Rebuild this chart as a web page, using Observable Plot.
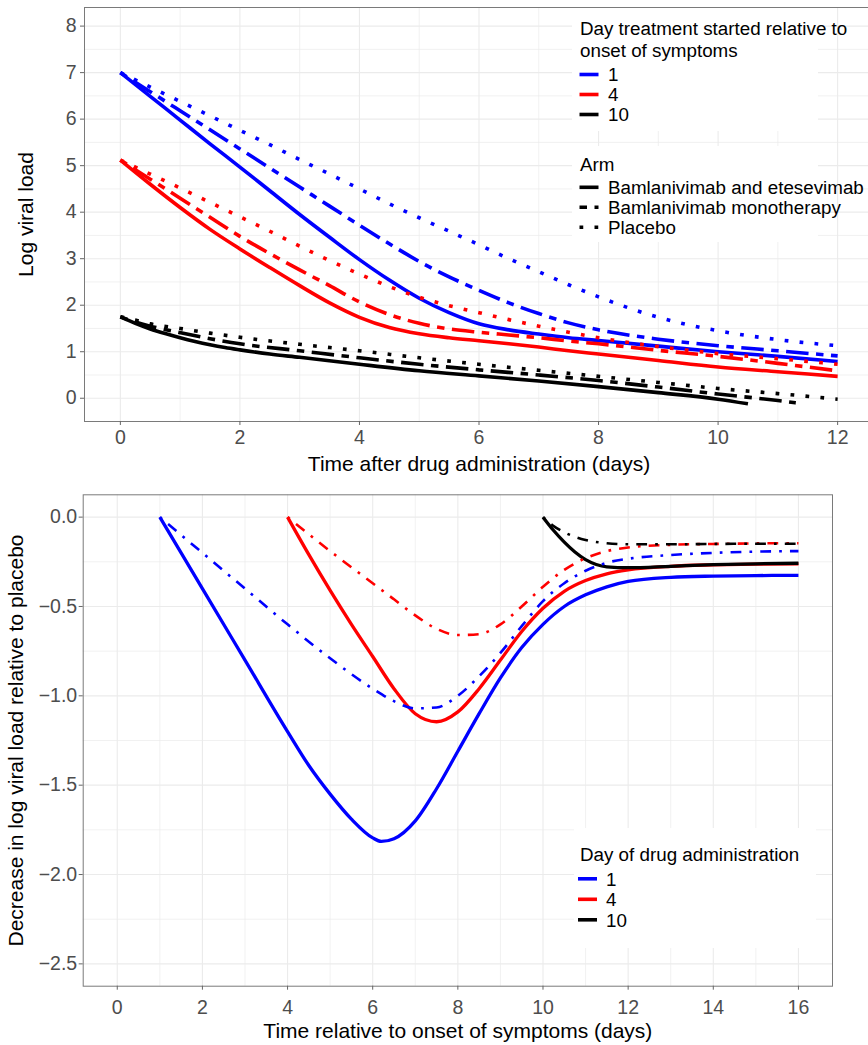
<!DOCTYPE html>
<html><head><meta charset="utf-8">
<script src="https://cdn.jsdelivr.net/npm/d3@7"></script>
<script src="https://cdn.jsdelivr.net/npm/@observablehq/plot@0.6"></script>
<style>
html,body{margin:0;padding:0;background:#fff;overflow:hidden;width:868px;height:1045px;position:relative}
#top{position:absolute;left:0;top:0;width:880px}
#bot{position:absolute;left:0;top:478px;width:868px}
svg{overflow:visible;max-width:none !important}
svg text{font-family:"Liberation Sans",Arial,sans-serif}
g[aria-label="x-axis label"] text, g[aria-label="y-axis label"] text{font-size:21px;fill:#000}
g[aria-label="x-axis tick label"] text, g[aria-label="y-axis tick label"] text{fill:#4d4d4d}
</style></head><body><div id="top"></div><div id="bot"></div>
<script>
// ---------- shared categories ----------
const dayLevels = ["1", "4", "10"];
const dayColors = ["#0000ff", "#ff0000", "#000000"];
const armLevels = ["Bamlanivimab and etesevimab", "Bamlanivimab monotherapy", "Placebo"];

// ---------- top panel: log viral load vs time after drug administration ----------
const topXTicks = [0, 2, 4, 6, 8, 10, 12];
const topXMinor = [1, 3, 5, 7, 9, 11];
const topYTicks = [0, 1, 2, 3, 4, 5, 6, 7, 8];
const topYMinor = [-0.5, 0.5, 1.5, 2.5, 3.5, 4.5, 5.5, 6.5, 7.5];

const tTop = [0, 0.5, 1, 1.5, 2, 2.5, 3, 3.5, 4, 4.5, 5, 5.5, 6, 6.5, 7, 7.5, 8, 9, 10, 11, 12];
const d1Combo   = [7.0, 6.49, 5.98, 5.47, 4.97, 4.46, 3.95, 3.46, 2.98, 2.54, 2.15, 1.84, 1.60, 1.47, 1.38, 1.30, 1.24, 1.12, 1.00, 0.90, 0.79];
const d1Mono    = [7.0, 6.59, 6.18, 5.77, 5.36, 4.95, 4.54, 4.13, 3.72, 3.32, 2.94, 2.61, 2.32, 2.05, 1.82, 1.62, 1.47, 1.27, 1.13, 1.02, 0.91];
const d1Placebo = [7.0, 6.69, 6.38, 6.07, 5.76, 5.45, 5.13, 4.82, 4.50, 4.18, 3.88, 3.59, 3.30, 3.00, 2.72, 2.44, 2.18, 1.74, 1.45, 1.26, 1.13];
const d4Combo   = [5.12, 4.60, 4.10, 3.63, 3.21, 2.81, 2.42, 2.05, 1.74, 1.52, 1.385, 1.30, 1.235, 1.17, 1.10, 1.02, 0.95, 0.81, 0.67, 0.57, 0.47];
const d4Mono    = [5.12, 4.71, 4.30, 3.89, 3.48, 3.11, 2.76, 2.42, 2.07, 1.80, 1.61, 1.49, 1.42, 1.36, 1.30, 1.23, 1.17, 1.03, 0.90, 0.75, 0.59];
const d4Placebo = [5.12, 4.82, 4.52, 4.21, 3.90, 3.59, 3.27, 2.96, 2.67, 2.40, 2.17, 1.99, 1.84, 1.69, 1.55, 1.42, 1.30, 1.11, 0.96, 0.85, 0.73];
const tD10Combo   = [0, 0.25, 0.5, 0.75, 1, 1.25, 1.5, 1.75, 2, 2.5, 3, 4, 5, 6, 7, 8, 9, 10, 10.5];
const d10Combo    = [1.75, 1.61, 1.49, 1.39, 1.30, 1.22, 1.15, 1.09, 1.04, 0.95, 0.88, 0.73, 0.59, 0.48, 0.37, 0.25, 0.12, -0.02, -0.12];
const tD10Mono    = [0, 0.25, 0.5, 1, 1.5, 2, 3, 4, 5, 6, 7, 8, 9, 10, 11, 11.3];
const d10Mono     = [1.75, 1.64, 1.55, 1.41, 1.28, 1.17, 1.02, 0.87, 0.73, 0.61, 0.50, 0.38, 0.24, 0.09, -0.05, -0.10];
const tD10Placebo = [0, 0.25, 0.5, 1, 1.5, 2, 3, 4, 5, 6, 7, 8, 9, 10, 11, 12];
const d10Placebo  = [1.75, 1.68, 1.60, 1.50, 1.40, 1.31, 1.16, 1.02, 0.87, 0.73, 0.60, 0.47, 0.34, 0.21, 0.10, -0.02];

// ---------- bottom panel: decrease relative to placebo ----------
const botXTicks = [0, 2, 4, 6, 8, 10, 12, 14, 16];
const botXMinor = [1, 3, 5, 7, 9, 11, 13, 15];
const botYTicks = [0, -0.5, -1, -1.5, -2, -2.5];
const botYMinor = [-0.25, -0.75, -1.25, -1.75, -2.25];

const tB1Combo = [1, 2, 3, 4, 4.5, 5, 5.5, 6, 6.2, 6.5, 7, 7.5, 8, 8.5, 9, 9.5, 10, 10.5, 11, 11.5, 12, 13, 14, 15, 16];
const b1Combo  = [0, -0.4, -0.8, -1.2, -1.39, -1.55, -1.69, -1.795, -1.815, -1.80, -1.70, -1.52, -1.31, -1.10, -0.90, -0.73, -0.60, -0.50, -0.435, -0.39, -0.36, -0.337, -0.33, -0.327, -0.326];
const tB1Mono  = [1, 2, 3, 4, 5, 6, 6.5, 7, 7.5, 8, 8.5, 9, 9.5, 10, 10.5, 11, 11.5, 12, 13, 14, 15, 16];
const b1Mono   = [0, -0.2, -0.4, -0.6, -0.79, -0.96, -1.03, -1.07, -1.065, -1.0, -0.89, -0.76, -0.61, -0.47, -0.37, -0.30, -0.255, -0.233, -0.212, -0.2, -0.193, -0.19];
const tB4Combo = [4, 4.5, 5, 5.5, 6, 6.5, 7, 7.5, 8, 8.5, 9, 9.5, 10, 10.5, 11, 11.5, 12, 13, 14, 15, 16];
const b4Combo  = [0, -0.21, -0.41, -0.60, -0.78, -0.96, -1.10, -1.145, -1.09, -0.96, -0.80, -0.64, -0.51, -0.415, -0.355, -0.317, -0.295, -0.275, -0.267, -0.263, -0.261];
const tB4Mono  = [4, 5, 6, 6.5, 7, 7.5, 8, 8.5, 9, 9.5, 10, 10.5, 11, 11.5, 12, 13, 14, 15, 16];
const b4Mono   = [0, -0.19, -0.37, -0.46, -0.55, -0.625, -0.66, -0.655, -0.60, -0.50, -0.39, -0.295, -0.23, -0.19, -0.17, -0.155, -0.15, -0.147, -0.146];
const tB10Combo = [10, 10.25, 10.5, 10.75, 11, 11.25, 11.5, 12, 13, 14, 15, 16];
const b10Combo  = [0, -0.075, -0.14, -0.195, -0.238, -0.265, -0.278, -0.283, -0.275, -0.266, -0.261, -0.258];
const tB10Mono  = [10, 10.25, 10.5, 10.75, 11, 11.5, 12, 13, 14, 15, 16];
const b10Mono   = [0, -0.05, -0.085, -0.11, -0.128, -0.146, -0.152, -0.152, -0.15, -0.149, -0.149];

// ---------- build tables ----------
function series(day, arm, xs, ys) { return xs.map((x, i) => ({day, arm, x, y: ys[i]})); }
const topRows = [
  ...series("1", armLevels[0], tTop, d1Combo), ...series("1", armLevels[1], tTop, d1Mono), ...series("1", armLevels[2], tTop, d1Placebo),
  ...series("4", armLevels[0], tTop, d4Combo), ...series("4", armLevels[1], tTop, d4Mono), ...series("4", armLevels[2], tTop, d4Placebo),
  ...series("10", armLevels[0], tD10Combo, d10Combo), ...series("10", armLevels[1], tD10Mono, d10Mono), ...series("10", armLevels[2], tD10Placebo, d10Placebo)
];
const botRows = [
  ...series("1", armLevels[0], tB1Combo, b1Combo), ...series("1", armLevels[1], tB1Mono, b1Mono),
  ...series("4", armLevels[0], tB4Combo, b4Combo), ...series("4", armLevels[1], tB4Mono, b4Mono),
  ...series("10", armLevels[0], tB10Combo, b10Combo), ...series("10", armLevels[1], tB10Mono, b10Mono)
];

const FONT = "Liberation Sans, Arial, sans-serif";
const GRID = "#ebebeb";
const topDash = [null, "7.5,7.5,22.5,7.5", "3.75,11.25"];
const botDash = [null, "2.7,8.1,10.8,8.1"];

function gridMarks(xMaj, xMin, yMaj, yMin) {
  return [
    Plot.ruleX(xMin, {stroke: GRID, strokeWidth: 0.7}),
    Plot.ruleY(yMin, {stroke: GRID, strokeWidth: 0.7}),
    Plot.ruleX(xMaj, {stroke: GRID, strokeWidth: 1.1}),
    Plot.ruleY(yMaj, {stroke: GRID, strokeWidth: 1.1})
  ];
}

// ---------- top plot ----------
const topPlot = Plot.plot({
  width: 880, height: 478,
  marginLeft: 84, marginRight: 7, marginTop: 7, marginBottom: 57,
  style: {fontFamily: FONT, fontSize: "19.5px", background: "transparent", overflow: "visible", maxWidth: "none"},
  x: {domain: [-0.6, 12.6]},
  y: {domain: [-0.5, 8.4]},
  color: {domain: dayLevels, range: dayColors},
  marks: [
    ...gridMarks(topXTicks, topXMinor, topYTicks, topYMinor),
    ...armLevels.map((a, i) => Plot.line(topRows.filter(d => d.arm === a), {
      x: "x", y: "y", z: "day", stroke: "day", strokeWidth: 3.6, curve: "monotone-x",
      strokeDasharray: topDash[i], strokeLinecap: "butt"
    })),
    Plot.frame({stroke: "#7a7a7a", strokeWidth: 1}),
    Plot.axisX(topXTicks, {tickSize: 4, tickPadding: 5, stroke: "#666", tickFormat: d3.format("d"),
      label: "Time after drug administration (days)", labelAnchor: "center", labelArrow: "none", labelOffset: 49}),
    Plot.axisY(topYTicks, {tickSize: 4, tickPadding: 4, stroke: "#666", tickFormat: d3.format("d"),
      label: "Log viral load", labelAnchor: "center", labelArrow: "none", labelOffset: 66})
  ]
});
document.getElementById("top").appendChild(topPlot);

// ---------- bottom plot ----------
const botPlot = Plot.plot({
  width: 868, height: 567,
  marginLeft: 82.7, marginRight: 36, marginTop: 16.3, marginBottom: 59.3,
  style: {fontFamily: FONT, fontSize: "19.5px", background: "transparent", overflow: "visible", maxWidth: "none"},
  x: {domain: [-0.8, 16.8]},
  y: {domain: [-2.625, 0.125]},
  color: {domain: dayLevels, range: dayColors},
  marks: [
    ...gridMarks(botXTicks, botXMinor, botYTicks, botYMinor),
    ...[0, 1].map(i => Plot.line(botRows.filter(d => d.arm === armLevels[i]), {
      x: "x", y: "y", z: "day", stroke: "day", strokeWidth: i === 0 ? 3.3 : 2.6, curve: "monotone-x",
      strokeDasharray: botDash[i], strokeLinecap: "butt"
    })),
    Plot.frame({stroke: "#7a7a7a", strokeWidth: 1}),
    Plot.axisX(botXTicks, {tickSize: 4, tickPadding: 10, stroke: "#666", tickFormat: d3.format("d"),
      label: "Time relative to onset of symptoms (days)", labelAnchor: "center", labelArrow: "none", labelOffset: 52}),
    Plot.axisY(botYTicks, {tickSize: 4, tickPadding: 2, stroke: "#666", tickFormat: d3.format(".1f"),
      label: "Decrease in log viral load relative to placebo", labelAnchor: "center", labelArrow: "none", labelOffset: 75})
  ]
});
document.getElementById("bot").appendChild(botPlot);

// ---------- legends (drawn into the plot SVGs) ----------
function addText(g, x, y, s, size) {
  g.append("text").attr("x", x).attr("y", y).attr("font-size", size).attr("fill", "#000")
    .attr("text-anchor", "start").attr("font-family", FONT).text(s);
}
function addKey(g, x, y, color, dash) {
  const l = g.append("line").attr("x1", x).attr("x2", x + 19).attr("y1", y).attr("y2", y)
    .attr("stroke", color).attr("stroke-width", 3.6).attr("stroke-linecap", "butt");
  if (dash) l.attr("stroke-dasharray", dash);
}
const LS = "18.8px";
{
  const g = d3.select(topPlot.tagName === "svg" ? topPlot : topPlot.querySelector("svg")).append("g").attr("text-anchor", "start");
  g.append("rect").attr("x", 572).attr("y", 8).attr("width", 246).attr("height", 123).attr("fill", "#fff");
  g.append("rect").attr("x", 572).attr("y", 146).attr("width", 246).attr("height", 96).attr("fill", "#fff");
  addText(g, 580, 35, "Day treatment started relative to", LS);
  addText(g, 580, 57, "onset of symptoms", LS);
  const ky = [74.5, 94.5, 114.5];
  dayLevels.forEach((d, i) => { addKey(g, 579.5, ky[i], dayColors[i], null); addText(g, 608, ky[i] + 6.7, d, LS); });
  addText(g, 580, 171, "Arm", LS);
  const ay = [187.3, 207.3, 227.3];
  armLevels.forEach((a, i) => { addKey(g, 579.5, ay[i], "#000", topDash[i]); addText(g, 608, ay[i] + 6.7, a, LS); });
}
{
  const g = d3.select(botPlot.tagName === "svg" ? botPlot : botPlot.querySelector("svg")).append("g")
    .attr("text-anchor", "start").attr("transform", "translate(0,-478)");
  g.append("rect").attr("x", 574).attr("y", 828).attr("width", 242).attr("height", 120).attr("fill", "#fff");
  addText(g, 580, 861, "Day of drug administration", LS);
  const ky = [878.8, 899.3, 919.8];
  dayLevels.forEach((d, i) => { addKey(g, 578, ky[i], dayColors[i], null); addText(g, 606, ky[i] + 6.7, d, LS); });
}
</script></body></html>
